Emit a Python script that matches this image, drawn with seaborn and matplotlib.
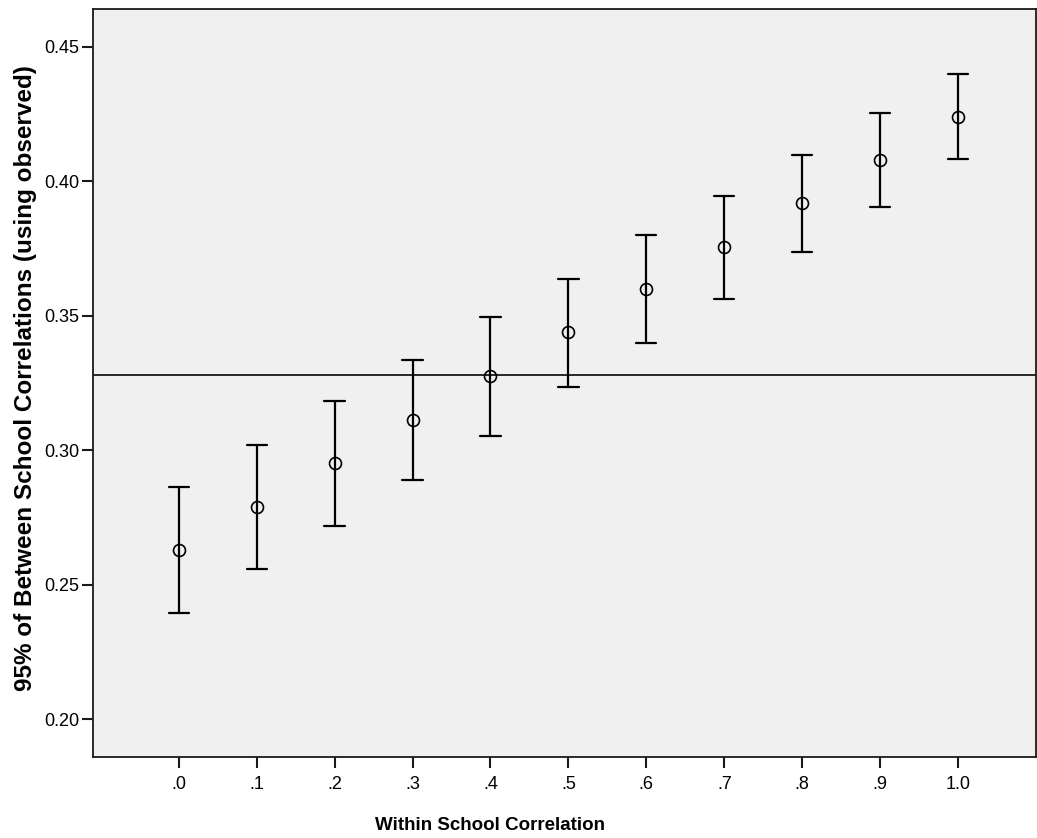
import matplotlib
matplotlib.use("Agg")
import matplotlib.pyplot as plt
import seaborn as sns
import pandas as pd

# Data
categories = [".0", ".1", ".2", ".3", ".4", ".5", ".6", ".7", ".8", ".9", "1.0"]
means = [0.2629, 0.2789, 0.2953, 0.3112, 0.3274, 0.3438, 0.3598, 0.3755, 0.3917, 0.4077, 0.4240]
lower = [0.2395, 0.2558, 0.2719, 0.2890, 0.3053, 0.3236, 0.3397, 0.3561, 0.3735, 0.3903, 0.4082]
upper = [0.2862, 0.3019, 0.3181, 0.3335, 0.3495, 0.3638, 0.3801, 0.3944, 0.4099, 0.4252, 0.4398]
reference_value = 0.3278
y_ticks = [0.20, 0.25, 0.30, 0.35, 0.40, 0.45]
y_tick_labels = ["0.20", "0.25", "0.30", "0.35", "0.40", "0.45"]
x_label = "Within School Correlation"
y_label = "95% of Between School Correlations (using observed)"

rows = []
for c, lo, m, hi in zip(categories, lower, means, upper):
    for v in (lo, m, hi):
        rows.append({"cat": c, "val": v})
df = pd.DataFrame(rows)

sns.set_theme(style="ticks")
plt.rcParams["font.family"] = ["Liberation Sans", "DejaVu Sans"]

fig = plt.figure(figsize=(10.37, 8.38), dpi=100)
ax = fig.add_axes([93 / 1037, 1 - 756.7 / 838, (1036 - 93) / 1037, (756.7 - 9.3) / 838])
ax.set_facecolor("#f0f0f0")

ax.axhline(reference_value, color="#1a1a1a", linewidth=1.3, zorder=1)

sns.pointplot(
    data=df, x="cat", y="val", order=categories,
    estimator="median", errorbar=lambda v: (v.min(), v.max()),
    linestyle="none", marker="o", markersize=8.6,
    markerfacecolor="none", markeredgewidth=1.2,
    color="black", capsize=0.26,
    err_kws={"linewidth": 1.6}, ax=ax,
)

ax.set_xlim(-1.1, 11.0)
ax.set_ylim(0.1860, 0.4639)
ax.set_yticks(y_ticks)
ax.set_yticklabels(y_tick_labels)

for s in ax.spines.values():
    s.set_visible(True)
    s.set_color("#1a1a1a")
    s.set_linewidth(1.3)

ax.tick_params(axis="both", direction="out", length=8, width=1.5, color="#1a1a1a",
               labelsize=13, labelcolor="black", pad=2)
ax.tick_params(axis="x", pad=6)

ax.set_xlabel(x_label, fontsize=13.5, fontweight="bold", color="black")
ax.xaxis.set_label_coords(0.421, -0.0977)
ax.xaxis.label.set_verticalalignment("baseline")

ax.set_ylabel(y_label, fontsize=17.5, fontweight="bold", color="black")
ax.yaxis.set_label_coords(-0.0642, 0.507)
ax.yaxis.label.set_verticalalignment("baseline")

fig.savefig("out.png", dpi=100)
